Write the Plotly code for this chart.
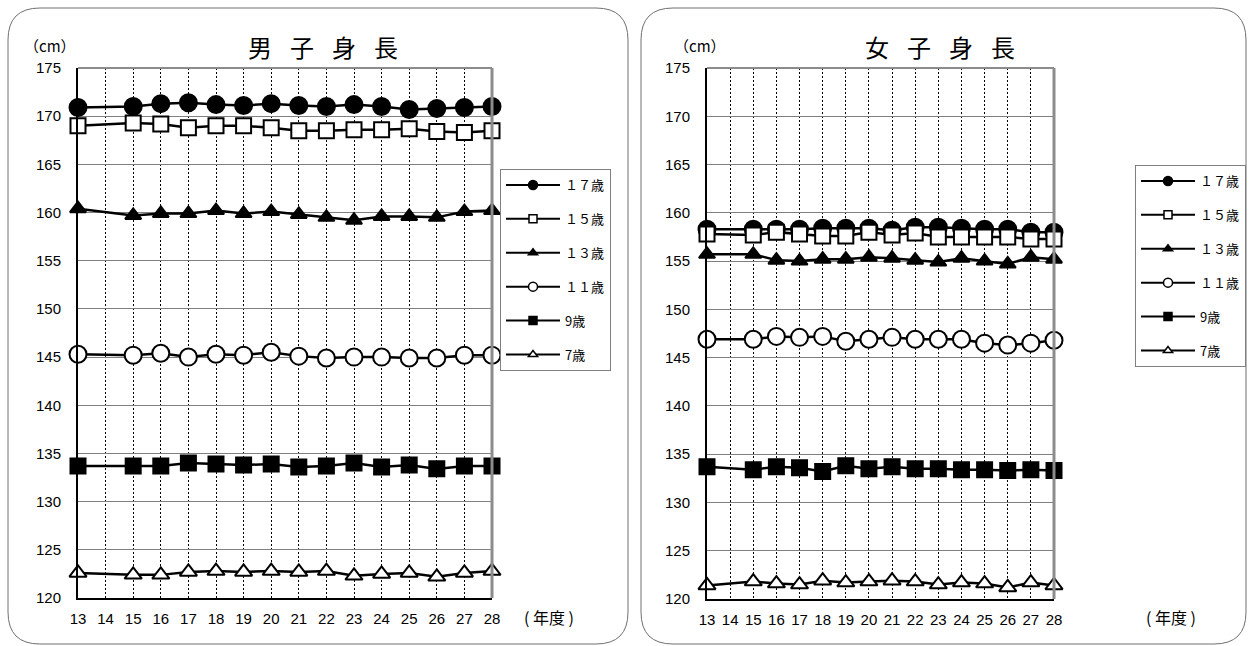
import plotly.graph_objects as go

# 年度 (平成) and body height averages (cm)
years = [13, 15, 16, 17, 18, 19, 20, 21, 22, 23, 24, 25, 26, 27, 28]
tick_years = list(range(13, 29))

boys_17 = [170.9, 171.0, 171.3, 171.4, 171.2, 171.1, 171.3, 171.1, 171.0, 171.2, 171.0, 170.7, 170.8, 170.9, 171.0]
boys_15 = [169.0, 169.3, 169.2, 168.8, 169.0, 169.0, 168.8, 168.5, 168.5, 168.6, 168.6, 168.7, 168.4, 168.3, 168.5]
boys_13 = [160.4, 159.7, 159.9, 159.9, 160.2, 159.9, 160.1, 159.8, 159.5, 159.2, 159.6, 159.6, 159.5, 160.1, 160.2]
boys_11 = [145.3, 145.2, 145.4, 145.0, 145.3, 145.2, 145.5, 145.1, 144.9, 145.0, 145.0, 144.9, 144.9, 145.2, 145.2]
boys_9 = [133.7, 133.7, 133.7, 134.0, 133.9, 133.8, 133.9, 133.6, 133.7, 134.0, 133.6, 133.8, 133.4, 133.7, 133.7]
boys_7 = [122.6, 122.4, 122.4, 122.7, 122.8, 122.7, 122.8, 122.7, 122.8, 122.3, 122.5, 122.6, 122.2, 122.6, 122.8]

girls_17 = [158.3, 158.3, 158.3, 158.3, 158.4, 158.4, 158.4, 158.2, 158.5, 158.5, 158.4, 158.3, 158.3, 158.0, 158.0]
girls_15 = [157.8, 157.7, 158.0, 157.8, 157.6, 157.6, 158.0, 157.7, 157.9, 157.5, 157.5, 157.5, 157.5, 157.3, 157.3]
girls_13 = [155.7, 155.7, 155.1, 155.0, 155.2, 155.2, 155.4, 155.3, 155.1, 154.9, 155.3, 155.0, 154.7, 155.4, 155.2]
girls_11 = [146.9, 146.9, 147.2, 147.1, 147.2, 146.7, 146.9, 147.1, 146.9, 146.9, 146.9, 146.5, 146.3, 146.5, 146.8]
girls_9 = [133.7, 133.4, 133.7, 133.6, 133.2, 133.8, 133.5, 133.7, 133.5, 133.5, 133.4, 133.4, 133.3, 133.4, 133.3]
girls_7 = [121.4, 121.8, 121.6, 121.5, 121.9, 121.7, 121.8, 121.9, 121.8, 121.5, 121.7, 121.6, 121.2, 121.7, 121.4]

age_labels = ["１７歳", "１５歳", "１３歳", "１１歳", "9歳", "7歳"]
# marker symbol / fill for each age group
symbols = ["circle", "square", "triangle-up", "circle", "square", "triangle-up"]
fills = ["black", "white", "black", "white", "black", "white"]
sizes = [17, 15, 14, 17, 15, 15]
legend_sizes = [9, 8, 8, 9, 8, 8]

W, H = 1252, 646
JP = "Noto Sans CJK JP"
NUM = "Liberation Sans"
GAP = "\u2002\u2005"  # wide letter spacing in the panel titles


def px(x):
    return x / W


def py(y):
    return 1 - y / H


fig = go.Figure()

panels = [
    dict(series=[boys_17, boys_15, boys_13, boys_11, boys_9, boys_7], xa="x", ya="y", legend="legend"),
    dict(series=[girls_17, girls_15, girls_13, girls_11, girls_9, girls_7], xa="x2", ya="y2", legend="legend2"),
]

for p in panels:
    for i, vals in enumerate(p["series"]):
        fig.add_trace(go.Scatter(
            x=years, y=vals, mode="lines+markers", xaxis=p["xa"], yaxis=p["ya"],
            line=dict(color="black", width=2.5),
            marker=dict(symbol=symbols[i], size=sizes[i], color=fills[i],
                        line=dict(color="black", width=2)),
            cliponaxis=False, showlegend=False, hoverinfo="skip",
        ))
    # legend entries with small symbols
    for i in range(len(age_labels)):
        fig.add_trace(go.Scatter(
            x=[None], y=[None], mode="lines+markers", xaxis=p["xa"], yaxis=p["ya"],
            name=age_labels[i], legend=p["legend"], legendgroup=p["legend"] + str(i),
            line=dict(color="black", width=2),
            marker=dict(symbol=symbols[i], size=legend_sizes[i], color=fills[i],
                        line=dict(color="black", width=1.5)),
            showlegend=True,
        ))

axis_common_x = dict(
    range=[13, 28], tickmode="array", tickvals=tick_years,
    showgrid=True, gridcolor="black", gridwidth=1, griddash="2px,2px",
    showline=True, linecolor="black", linewidth=2, ticks="",
    tickfont=dict(family=NUM, size=15, color="black"), zeroline=False,
    ticklabelstandoff=6, fixedrange=True,
)
axis_common_y = dict(
    range=[120, 175], tickmode="linear", tick0=120, dtick=5,
    showgrid=True, gridcolor="#808080", gridwidth=1,
    showline=True, linecolor="black", linewidth=2, ticks="",
    tickfont=dict(family=NUM, size=15, color="black"), zeroline=False,
    ticklabelstandoff=12, fixedrange=True,
)

legend_common = dict(
    xanchor="left", yanchor="top", bgcolor="white", bordercolor="#808080", borderwidth=1,
    font=dict(family=JP, size=13, color="black"), itemwidth=54, tracegroupgap=14,
    itemclick=False, itemdoubleclick=False,
)

fig.update_layout(
    width=W, height=H, autosize=False,
    margin=dict(l=0, r=0, t=0, b=0, autoexpand=False),
    paper_bgcolor="white", plot_bgcolor="white",
    xaxis=dict(domain=[px(78), px(492)], anchor="y", **axis_common_x),
    yaxis=dict(domain=[py(598), py(68)], anchor="x", **axis_common_y),
    xaxis2=dict(domain=[px(707), px(1054)], anchor="y2", **axis_common_x),
    yaxis2=dict(domain=[py(599), py(68)], anchor="x2", **axis_common_y),
    legend=dict(x=px(500), y=py(169), **legend_common),
    legend2=dict(x=px(1135), y=py(165), **legend_common),
)


def rounded_panel(x0, y0, x1, y1, r):
    rx, ry = r / W, r / H
    X0, X1 = px(x0), px(x1)
    Y0, Y1 = py(y0), py(y1)  # Y0 top, Y1 bottom
    return (f"M {X0 + rx},{Y0} L {X1 - rx},{Y0} Q {X1},{Y0} {X1},{Y0 - ry} "
            f"L {X1},{Y1 + ry} Q {X1},{Y1} {X1 - rx},{Y1} "
            f"L {X0 + rx},{Y1} Q {X0},{Y1} {X0},{Y1 + ry} "
            f"L {X0},{Y0 - ry} Q {X0},{Y0} {X0 + rx},{Y0} Z")


shapes = [
    dict(type="path", xref="paper", yref="paper", path=rounded_panel(8, 8, 628, 644, 32),
         line=dict(color="#707070", width=1), layer="below"),
    dict(type="path", xref="paper", yref="paper", path=rounded_panel(641, 8, 1246, 644, 32),
         line=dict(color="#707070", width=1), layer="below"),
]
# gray top / right frame of each plot area
for xa, ya in [("x", "y"), ("x2", "y2")]:
    shapes.append(dict(type="line", xref=f"{xa} domain", yref=f"{ya} domain",
                       x0=0, x1=1, y0=1, y1=1, line=dict(color="#8c8c8c", width=2)))
    shapes.append(dict(type="line", xref=f"{xa} domain", yref=f"{ya} domain",
                       x0=1, x1=1, y0=0, y1=1, line=dict(color="#8c8c8c", width=3)))

annotations = []
for cx, title in [(323, GAP.join("男子身長")), (940, GAP.join("女子身長"))]:
    annotations.append(dict(x=px(cx), y=py(46), xref="paper", yref="paper", text=title,
                            showarrow=False, xanchor="center", yanchor="middle",
                            font=dict(family=JP, size=24, color="black")))
for cx in (50, 700):
    annotations.append(dict(x=px(cx), y=py(45), xref="paper", yref="paper", text="（cm）",
                            showarrow=False, xanchor="center", yanchor="middle",
                            font=dict(family=JP, size=15, color="black")))
for cx in (549, 1171):
    annotations.append(dict(x=px(cx), y=py(617), xref="paper", yref="paper", text="( 年度 )",
                            showarrow=False, xanchor="center", yanchor="middle",
                            font=dict(family=JP, size=16, color="black")))

fig.update_layout(shapes=shapes, annotations=annotations)

fig.write_html("out.html")
